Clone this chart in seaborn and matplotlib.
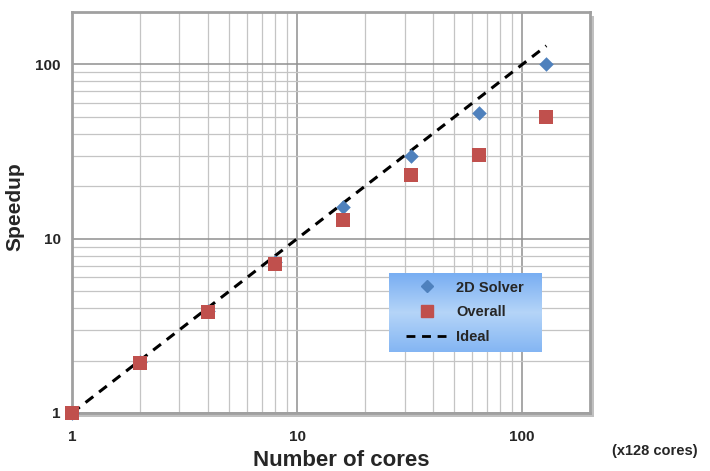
import numpy as np
import pandas as pd
import matplotlib
matplotlib.use("Agg")
import matplotlib.pyplot as plt
import matplotlib.patheffects as pe
from matplotlib.lines import Line2D
from matplotlib.ticker import FixedLocator, NullFormatter
import seaborn as sns

# Core counts (in units of 128 cores) and measured speedups
cores = [1, 2, 4, 8, 16, 32, 64, 128]
solver_2d = [1.0, 1.95, 3.85, 7.4, 15.2, 29.9, 52.9, 101.0]
overall = [1.0, 1.93, 3.79, 7.16, 12.8, 23.1, 30.2, 49.8]
ideal = [1, 2, 4, 8, 16, 32, 64, 128]

x_ticks = [1, 10, 100]
x_tick_labels = ["1", "10", "100"]
y_ticks = [1, 10, 100]
y_tick_labels = ["1", "10", "100"]

df = pd.DataFrame({"cores": cores, "solver": solver_2d,
                   "overall": overall, "ideal": ideal})

sns.set_theme(style="white")
plt.rcParams["font.family"] = ["Liberation Sans", "DejaVu Sans"]

fig = plt.figure(figsize=(7.10, 4.71), dpi=100)
ax = fig.add_axes([72 / 710, 1 - 413 / 471, 518 / 710, 401 / 471])

ax.set_xscale("log")
ax.set_yscale("log")
ax.set_xlim(1, 200)
ax.set_ylim(1, 200)

# Grid: darker lines at decades, lighter at intermediate values
ax.xaxis.set_minor_locator(FixedLocator([k * 10 ** e for e in range(0, 3) for k in range(2, 10) if k * 10 ** e < 200]))
ax.yaxis.set_minor_locator(FixedLocator([k * 10 ** e for e in range(0, 2) for k in range(2, 10)]))
ax.xaxis.set_minor_formatter(NullFormatter())
ax.yaxis.set_minor_formatter(NullFormatter())
ax.set_xticks(x_ticks, x_tick_labels)
ax.set_yticks(y_ticks, y_tick_labels)
ax.grid(which="major", color="#8f8f8f", linewidth=1.1, zorder=0)
ax.grid(which="minor", color="#c4c4c4", linewidth=0.9, zorder=0)
ax.tick_params(which="both", length=0)
ax.tick_params(axis="x", pad=12, labelsize=11)
ax.tick_params(axis="y", pad=8, labelsize=11)
for lab in ax.get_xticklabels() + ax.get_yticklabels():
    lab.set_fontweight("bold")

sns.lineplot(data=df, x="cores", y="ideal", ax=ax, color="black",
             linewidth=2.2, linestyle=(0, (3.2, 2.4)), zorder=3)
sns.scatterplot(data=df, x="cores", y="solver", ax=ax, marker="D",
                color="#4f81bd", s=55, linewidth=0, zorder=4)
sns.scatterplot(data=df, x="cores", y="overall", ax=ax, marker="s",
                color="#c0504d", s=95, linewidth=0, zorder=5)
for coll in ax.collections:
    coll.set_clip_on(False)

for sp in ax.spines.values():
    sp.set_color("#a0a0a0")
    sp.set_linewidth(2.0)
ax.patch.set_path_effects([pe.SimplePatchShadow(offset=(3, -3), alpha=0.35),
                           pe.Normal()])

ax.set_xlabel("Number of cores", fontsize=16, fontweight="bold")
ax.set_ylabel("Speedup", fontsize=15, fontweight="bold")
ax.xaxis.set_label_coords(0.52, -0.092)
ax.yaxis.set_label_coords(-0.091, 0.514)

fig.text(612 / 710, 1 - 451 / 471, "(x128 cores)", fontsize=10.5,
         fontweight="bold", va="center", ha="left")

# Legend panel with a soft blue vertical gradient
lax = fig.add_axes([389 / 710, 1 - 352 / 471, 152 / 710, 79 / 471])
grad = np.concatenate([np.linspace(0.0, 1.0, 50), np.linspace(1.0, 0.2, 50)])[:, None]
cmap = matplotlib.colors.LinearSegmentedColormap.from_list(
    "legbg", ["#78aef2", "#b4d4f8"])
lax.imshow(grad, aspect="auto", cmap=cmap, extent=(0, 1, 0, 1))
lax.set_axis_off()
handles = [
    Line2D([], [], marker="D", color="#4f81bd", linestyle="none", markersize=6),
    Line2D([], [], marker="s", color="#c0504d", linestyle="none", markersize=8),
    Line2D([], [], color="black", linestyle=(0, (3.2, 2.4)), linewidth=2.0),
]
lax.legend(handles, ["2D Solver", "Overall", "Ideal"], loc="center",
           frameon=False, prop={"weight": "bold", "size": 10.5},
           handlelength=2.8, labelspacing=0.75, handletextpad=0.6)

fig.savefig("out.png", dpi=100)
